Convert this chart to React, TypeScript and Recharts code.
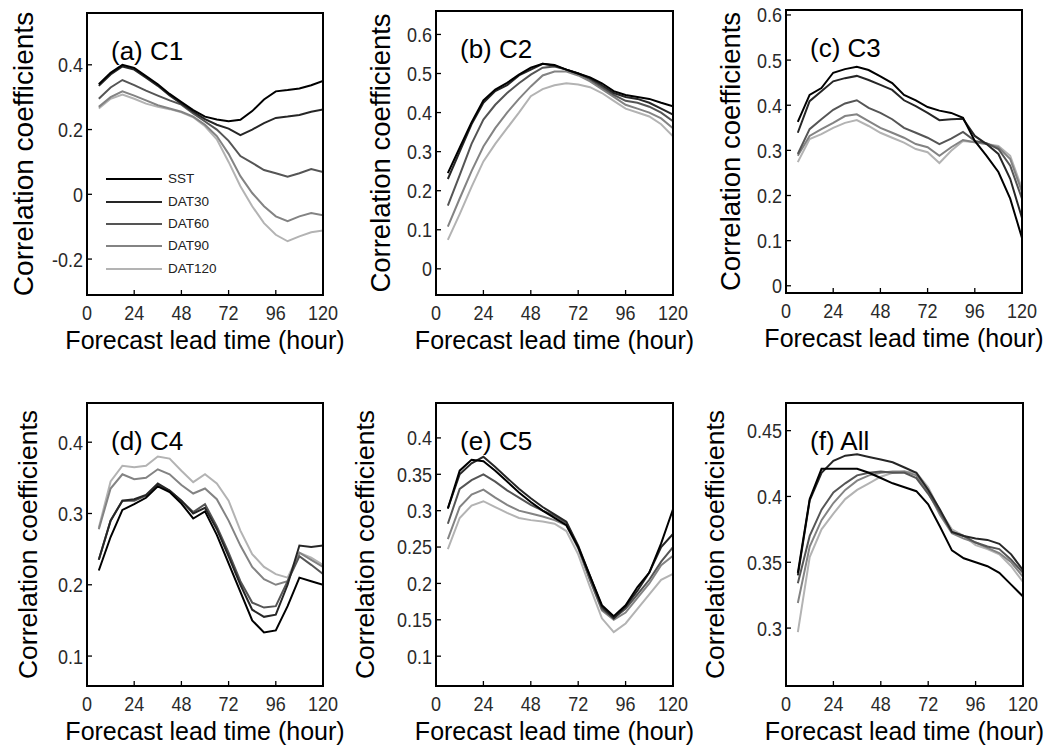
import React from 'react';
import { LineChart, Line, XAxis, YAxis, Legend } from 'recharts';

const HOURS = [6, 12, 18, 24, 30, 36, 42, 48, 54, 60, 66, 72, 78, 84, 90, 96, 102, 108, 114, 120];
const X_TICKS = [0, 24, 48, 72, 96, 120];
const SERIES_NAMES = ['SST', 'DAT30', 'DAT60', 'DAT90', 'DAT120'];

// (a) C1
const C1_SST = [0.34, 0.375, 0.40, 0.39, 0.365, 0.34, 0.31, 0.285, 0.26, 0.24, 0.231, 0.226, 0.23, 0.257, 0.293, 0.318, 0.322, 0.327, 0.337, 0.35];
const C1_DAT30 = [0.335, 0.37, 0.395, 0.385, 0.36, 0.335, 0.305, 0.28, 0.255, 0.232, 0.215, 0.203, 0.183, 0.2, 0.22, 0.236, 0.24, 0.245, 0.255, 0.262];
const C1_DAT60 = [0.295, 0.33, 0.353, 0.337, 0.32, 0.305, 0.29, 0.277, 0.25, 0.225, 0.2, 0.165, 0.118, 0.097, 0.075, 0.065, 0.054, 0.065, 0.078, 0.069];
const C1_DAT90 = [0.27, 0.3, 0.318, 0.305, 0.29, 0.275, 0.265, 0.255, 0.24, 0.215, 0.18, 0.125, 0.056, 0.004, -0.037, -0.068, -0.083, -0.068, -0.058, -0.065];
const C1_DAT120 = [0.265, 0.295, 0.308, 0.295, 0.28, 0.27, 0.263, 0.253, 0.238, 0.21, 0.17, 0.1, 0.025, -0.037, -0.089, -0.125, -0.145, -0.13, -0.117, -0.112];

// (b) C2
const C2_SST = [0.245, 0.31, 0.375, 0.431, 0.459, 0.476, 0.497, 0.515, 0.525, 0.522, 0.51, 0.5, 0.49, 0.475, 0.455, 0.445, 0.44, 0.435, 0.425, 0.416];
const C2_DAT30 = [0.23, 0.3, 0.37, 0.425, 0.455, 0.47, 0.495, 0.51, 0.525, 0.52, 0.51, 0.5, 0.488, 0.47, 0.45, 0.44, 0.435, 0.425, 0.41, 0.395];
const C2_DAT60 = [0.162, 0.24, 0.32, 0.382, 0.42, 0.45, 0.475, 0.497, 0.515, 0.518, 0.51, 0.5, 0.485, 0.465, 0.445, 0.43, 0.425, 0.415, 0.4, 0.378];
const C2_DAT90 = [0.108, 0.18, 0.25, 0.313, 0.36, 0.4, 0.435, 0.467, 0.495, 0.505, 0.505, 0.495, 0.48, 0.46, 0.44, 0.42, 0.41, 0.4, 0.385, 0.36];
const C2_DAT120 = [0.074, 0.14, 0.21, 0.275, 0.32, 0.36, 0.4, 0.442, 0.46, 0.47, 0.475, 0.472, 0.465, 0.45, 0.43, 0.41, 0.4, 0.39, 0.37, 0.339];

// (c) C3
const C3_SST = [0.363, 0.423, 0.438, 0.472, 0.48, 0.485, 0.478, 0.464, 0.449, 0.423, 0.411, 0.396, 0.388, 0.383, 0.372, 0.321, 0.288, 0.252, 0.193, 0.106];
const C3_DAT30 = [0.339, 0.409, 0.431, 0.453, 0.46, 0.465, 0.456, 0.445, 0.434, 0.411, 0.398, 0.383, 0.367, 0.369, 0.37, 0.332, 0.314, 0.292, 0.237, 0.15];
const C3_DAT60 = [0.292, 0.347, 0.369, 0.39, 0.404, 0.411, 0.394, 0.383, 0.369, 0.35, 0.339, 0.328, 0.314, 0.326, 0.341, 0.321, 0.316, 0.303, 0.266, 0.193];
const C3_DAT90 = [0.288, 0.332, 0.347, 0.361, 0.376, 0.38, 0.365, 0.35, 0.339, 0.328, 0.314, 0.307, 0.288, 0.307, 0.323, 0.318, 0.314, 0.307, 0.281, 0.208];
const C3_DAT120 = [0.274, 0.325, 0.336, 0.35, 0.361, 0.367, 0.354, 0.339, 0.328, 0.317, 0.303, 0.296, 0.272, 0.299, 0.321, 0.318, 0.314, 0.31, 0.288, 0.215];

// (d) C4
const C4_SST = [0.22, 0.267, 0.305, 0.313, 0.322, 0.338, 0.33, 0.314, 0.293, 0.303, 0.27, 0.23, 0.19, 0.15, 0.133, 0.136, 0.17, 0.21, 0.205, 0.2];
const C4_DAT30 = [0.235, 0.29, 0.318, 0.32, 0.326, 0.342, 0.332, 0.318, 0.3, 0.308, 0.278, 0.24, 0.2, 0.165, 0.155, 0.158, 0.2, 0.255, 0.253, 0.255];
const C4_DAT60 = [0.235, 0.29, 0.318, 0.318, 0.325, 0.34, 0.332, 0.318, 0.302, 0.313, 0.282, 0.245, 0.205, 0.175, 0.168, 0.17, 0.205, 0.24, 0.228, 0.215];
const C4_DAT90 = [0.278, 0.335, 0.355, 0.348, 0.35, 0.362, 0.355, 0.34, 0.328, 0.335, 0.32, 0.29, 0.255, 0.225, 0.208, 0.2, 0.205, 0.245, 0.235, 0.225];
const C4_DAT120 = [0.28, 0.345, 0.367, 0.365, 0.367, 0.38, 0.377, 0.36, 0.344, 0.355, 0.342, 0.318, 0.276, 0.243, 0.225, 0.215, 0.21, 0.245, 0.238, 0.228];

// (e) C5
const C5_SST = [0.303, 0.355, 0.37, 0.368, 0.355, 0.34, 0.325, 0.312, 0.3, 0.29, 0.28, 0.25, 0.21, 0.17, 0.155, 0.17, 0.195, 0.215, 0.255, 0.302];
const C5_DAT30 = [0.303, 0.35, 0.365, 0.374, 0.36, 0.345, 0.33, 0.317, 0.305, 0.295, 0.285, 0.252, 0.21, 0.168, 0.152, 0.168, 0.19, 0.215, 0.25, 0.268];
const C5_DAT60 = [0.282, 0.33, 0.342, 0.35, 0.34, 0.328, 0.318, 0.308, 0.3, 0.293, 0.283, 0.25, 0.205, 0.165, 0.152, 0.165, 0.185, 0.205, 0.23, 0.25];
const C5_DAT90 = [0.261, 0.305, 0.322, 0.329, 0.318, 0.308, 0.3, 0.296, 0.292, 0.287, 0.28, 0.248, 0.205, 0.163, 0.15, 0.16, 0.18, 0.2, 0.225, 0.238];
const C5_DAT120 = [0.247, 0.29, 0.307, 0.313, 0.305, 0.297, 0.29, 0.287, 0.285, 0.282, 0.272, 0.24, 0.195, 0.152, 0.133, 0.145, 0.165, 0.185, 0.205, 0.213];

// (f) All
const ALL_SST = [0.342, 0.398, 0.421, 0.421, 0.421, 0.421, 0.418, 0.414, 0.41, 0.407, 0.404, 0.394, 0.377, 0.359, 0.353, 0.35, 0.347, 0.342, 0.333, 0.324];
const ALL_DAT30 = [0.34, 0.397, 0.418, 0.427, 0.431, 0.432, 0.43, 0.428, 0.426, 0.422, 0.418, 0.405, 0.39, 0.373, 0.37, 0.368, 0.367, 0.364, 0.356, 0.344];
const ALL_DAT60 = [0.334, 0.37, 0.39, 0.403, 0.41, 0.416, 0.418, 0.419, 0.418, 0.418, 0.414, 0.402, 0.388, 0.373, 0.37, 0.365, 0.362, 0.36, 0.352, 0.342];
const ALL_DAT90 = [0.319, 0.362, 0.382, 0.395, 0.405, 0.412, 0.416, 0.418, 0.419, 0.419, 0.416, 0.403, 0.386, 0.372, 0.368, 0.365, 0.361, 0.357, 0.35, 0.339];
const ALL_DAT120 = [0.297, 0.354, 0.375, 0.387, 0.398, 0.405, 0.41, 0.415, 0.418, 0.419, 0.418, 0.407, 0.389, 0.375, 0.37, 0.363, 0.36, 0.356, 0.347, 0.335];

const TICKS_A = [-0.2, 0, 0.2, 0.4];
const TICKS_B = [0, 0.1, 0.2, 0.3, 0.4, 0.5, 0.6];
const TICKS_C = [0, 0.1, 0.2, 0.3, 0.4, 0.5, 0.6];
const TICKS_D = [0.1, 0.2, 0.3, 0.4];
const TICKS_E = [0.1, 0.15, 0.2, 0.25, 0.3, 0.35, 0.4];
const TICKS_F = [0.3, 0.35, 0.4, 0.45];

const COLORS: Record<string, string> = {
  SST: '#000000',
  DAT30: '#262626',
  DAT60: '#555555',
  DAT90: '#838383',
  DAT120: '#b3b3b3',
};

const FONT = "'Liberation Sans', Arial, Helvetica, sans-serif";
const L = 90;
const T = 6;
const R = 40;
const B = 64;

const PANELS = [
  { title: '(a) C1', series: [C1_SST, C1_DAT30, C1_DAT60, C1_DAT90, C1_DAT120], domain: [-0.311, 0.56], ticks: TICKS_A, left: 87, top: 13, w: 236, h: 282, yLab: 64, yLabSize: 28, legend: true },
  { title: '(b) C2', series: [C2_SST, C2_DAT30, C2_DAT60, C2_DAT90, C2_DAT120], domain: [-0.067, 0.66], ticks: TICKS_B, left: 436, top: 11, w: 237, h: 284, yLab: 56, yLabSize: 27.5, legend: false },
  { title: '(c) C3', series: [C3_SST, C3_DAT30, C3_DAT60, C3_DAT90, C3_DAT120], domain: [-0.016, 0.611], ticks: TICKS_C, left: 786, top: 10, w: 236, h: 283, yLab: 56, yLabSize: 27.5, legend: false },
  { title: '(d) C4', series: [C4_SST, C4_DAT30, C4_DAT60, C4_DAT90, C4_DAT120], domain: [0.058, 0.455], ticks: TICKS_D, left: 87, top: 403, w: 236, h: 283, yLab: 59, yLabSize: 26.5, legend: false },
  { title: '(e) C5', series: [C5_SST, C5_DAT30, C5_DAT60, C5_DAT90, C5_DAT120], domain: [0.059, 0.448], ticks: TICKS_E, left: 436, top: 403, w: 237, h: 283, yLab: 71, yLabSize: 26.5, legend: false },
  { title: '(f) All', series: [ALL_SST, ALL_DAT30, ALL_DAT60, ALL_DAT90, ALL_DAT120], domain: [0.256, 0.471], ticks: TICKS_F, left: 786, top: 403, w: 237, h: 283, yLab: 71, yLabSize: 26.5, legend: false },
];

const AXIS_LINE = { stroke: '#000', strokeWidth: 2, strokeLinecap: 'square' as const };
const TICK_LINE = { stroke: '#000', strokeWidth: 1.3 };

const XTick = (props: any) => {
  const { x, y, payload } = props;
  return (
    <g transform={`translate(${x},${y}) scale(1,1.15)`}>
      <text x={0} y={0} dy="0.72em" textAnchor="middle" fontFamily={FONT} fontSize={18} fill="#2a2a2a">
        {String(payload.value)}
      </text>
    </g>
  );
};

const YTick = (props: any) => {
  const { x, y, payload } = props;
  return (
    <g transform={`translate(${x},${y}) scale(1,1.15)`}>
      <text x={0} y={0} dy="0.36em" textAnchor="end" fontFamily={FONT} fontSize={18} fill="#2a2a2a">
        {String(payload.value)}
      </text>
    </g>
  );
};

const XLabel = (props: any) => (
  <text x={props.lx} y={props.ly} textAnchor="middle" dominantBaseline="central" fontFamily={FONT} fontSize={25} fill="#000">
    Forecast lead time (hour)
  </text>
);

const YLabel = (props: any) => (
  <text
    x={props.lx}
    y={props.ly}
    transform={`rotate(-90, ${props.lx}, ${props.ly})`}
    textAnchor="middle"
    dominantBaseline="central"
    fontFamily={FONT}
    fontSize={props.fs}
    fill="#000"
  >
    Correlation coefficients
  </text>
);

const LegendBox = (props: any) => {
  const items = [...(props.payload || [])]
    .filter((it: any) => SERIES_NAMES.indexOf(it.value) >= 0)
    .sort((a: any, b: any) => SERIES_NAMES.indexOf(a.value) - SERIES_NAMES.indexOf(b.value));
  return (
    <div style={{ fontFamily: FONT }}>
      {items.map((it: any) => (
        <div key={it.value} style={{ height: 22.4, display: 'flex', alignItems: 'center' }}>
          <svg width={56} height={6} style={{ display: 'block' }}>
            <line x1={0} y1={3} x2={56} y2={3} stroke={it.color} strokeWidth={2} />
          </svg>
          <span style={{ marginLeft: 6, fontSize: 13.5, color: '#222', lineHeight: '14px' }}>{it.value}</span>
        </div>
      ))}
    </div>
  );
};

function Panel({ p }: { p: any }) {
  const W = L + p.w + R;
  const H = T + p.h + B;
  const data = HOURS.map((t, i) => {
    const row: any = { t };
    SERIES_NAMES.forEach((n, k) => {
      row[n] = p.series[k][i];
    });
    return row;
  });
  const chartLeft = p.left - L;
  const chartTop = p.top - T;
  const drawOrder = [...SERIES_NAMES].reverse();
  return (
    <div style={{ position: 'absolute', left: chartLeft, top: chartTop, width: W, height: H }}>
      <LineChart width={W} height={H} data={data} margin={{ top: T - 1, right: R - 1, bottom: 0, left: 0 }}>
        <XAxis
          xAxisId="b"
          dataKey="t"
          type="number"
          domain={[0, 120]}
          ticks={X_TICKS}
          interval={0}
          allowDataOverflow
          orientation="bottom"
          height={B}
          tickSize={-5}
          tickMargin={15}
          axisLine={AXIS_LINE}
          tickLine={TICK_LINE}
          tick={<XTick />}
          label={<XLabel lx={L + p.w / 2} ly={T + p.h + 45} />}
        />
        <XAxis
          xAxisId="t"
          dataKey="t"
          type="number"
          domain={[0, 120]}
          ticks={X_TICKS}
          interval={0}
          allowDataOverflow
          orientation="top"
          height={1}
          tickSize={-5}
          axisLine={AXIS_LINE}
          tickLine={TICK_LINE}
          tick={false}
        />
        <YAxis
          yAxisId="l"
          type="number"
          domain={p.domain}
          ticks={p.ticks}
          interval={0}
          allowDataOverflow
          orientation="left"
          width={L}
          tickSize={-5}
          tickMargin={9}
          axisLine={AXIS_LINE}
          tickLine={TICK_LINE}
          tick={<YTick />}
          label={<YLabel lx={L - p.yLab} ly={T + p.h / 2} fs={p.yLabSize} />}
        />
        <YAxis
          yAxisId="r"
          type="number"
          domain={p.domain}
          ticks={p.ticks}
          interval={0}
          allowDataOverflow
          orientation="right"
          width={1}
          tickSize={-5}
          axisLine={AXIS_LINE}
          tickLine={TICK_LINE}
          tick={false}
        />
        <Line
          xAxisId="t"
          yAxisId="r"
          type="linear"
          dataKey="SST"
          name="hidden"
          stroke="none"
          strokeWidth={0}
          dot={false}
          activeDot={false}
          legendType="none"
          isAnimationActive={false}
        />
        {drawOrder.map((n) => (
          <Line
            key={n}
            xAxisId="b"
            yAxisId="l"
            type="linear"
            dataKey={n}
            name={n}
            stroke={COLORS[n]}
            strokeWidth={2}
            dot={false}
            activeDot={false}
            isAnimationActive={false}
          />
        ))}
        {p.legend && (
          <Legend
            layout="horizontal"
            verticalAlign="middle"
            align="center"
            content={<LegendBox />}
            wrapperStyle={{ position: 'absolute', left: 106 - chartLeft, top: 168 - chartTop, width: 'auto', height: 'auto' }}
          />
        )}
      </LineChart>
      <div
        style={{
          position: 'absolute',
          left: L + 24,
          top: T + 38 - 16,
          height: 32,
          lineHeight: '32px',
          fontFamily: FONT,
          fontSize: 26,
          color: '#000',
          whiteSpace: 'nowrap',
          pointerEvents: 'none',
        }}
      >
        {p.title}
      </div>
    </div>
  );
}

export default function App() {
  return (
    <div style={{ position: 'absolute', left: 0, top: 0, width: 1052, height: 752, background: '#fff', overflow: 'hidden' }}>
      {PANELS.map((p) => (
        <Panel key={p.title} p={p} />
      ))}
    </div>
  );
}
